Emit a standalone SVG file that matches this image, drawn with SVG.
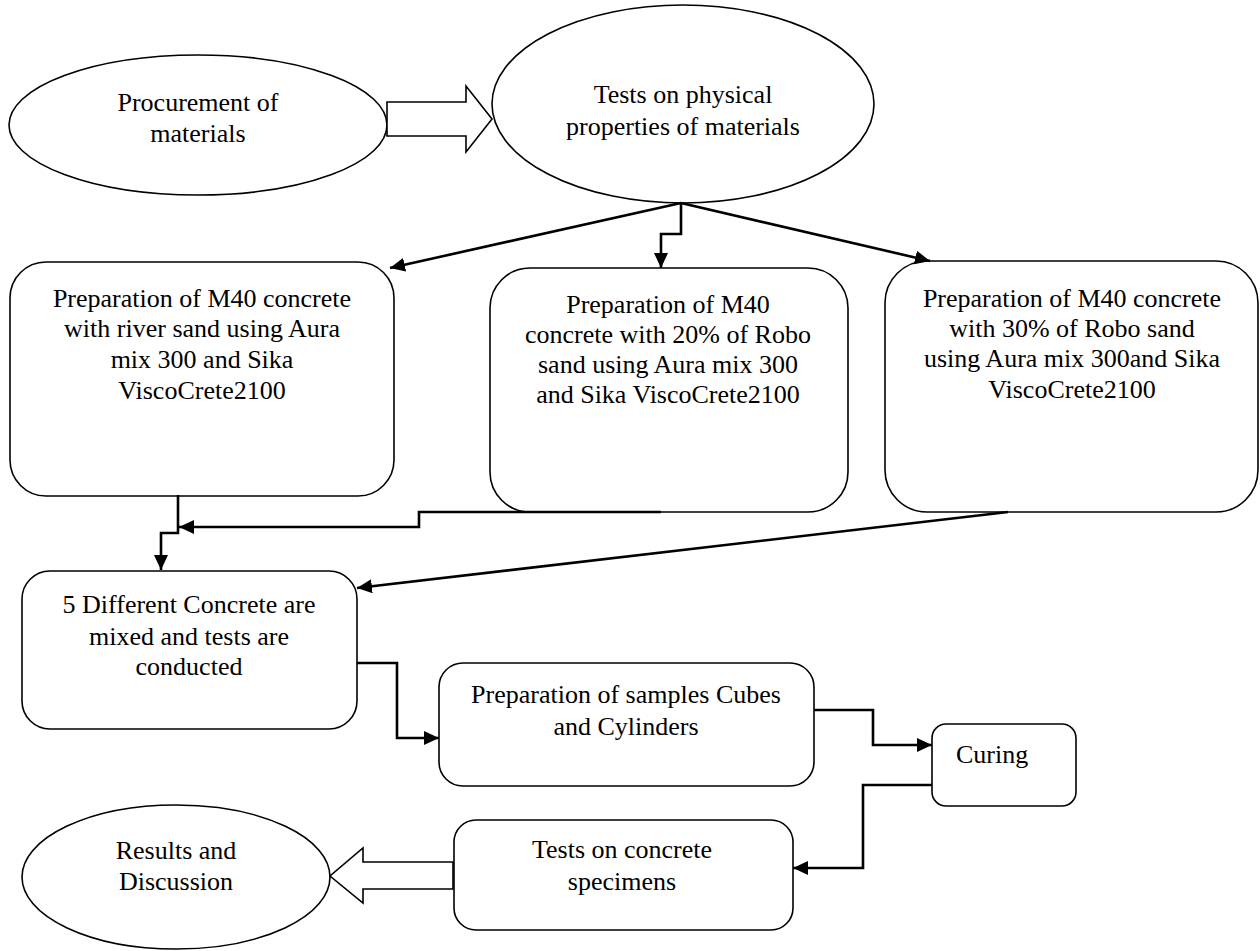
<svg xmlns="http://www.w3.org/2000/svg" width="1260" height="951" viewBox="0 0 1260 951">
<style>
.shape{fill:#fff;stroke:#000;stroke-width:1.6}
.conn{fill:none;stroke:#000;stroke-width:2.6}
.hollow{fill:#fff;stroke:#000;stroke-width:1.6;stroke-linejoin:miter}
text{font-family:"Liberation Serif","Times New Roman",serif;font-size:26px;fill:#000;text-anchor:middle}
</style>
<defs>
<marker id="ah" viewBox="0 0 15 14" refX="15" refY="7" markerWidth="15" markerHeight="14" orient="auto" markerUnits="userSpaceOnUse">
<path d="M0,0 L15,7 L0,14 z" fill="#000"/>
</marker>
</defs>
<rect width="1260" height="951" fill="#fff"/>

<g id="n_procurement">
<ellipse class="shape" cx="198" cy="125" rx="189" ry="70"/>
<text x="198" y="111">Procurement of</text>
<text x="198" y="142">materials</text>
</g>

<g id="n_tests_physical">
<ellipse class="shape" cx="683" cy="104" rx="191" ry="99"/>
<text x="683" y="103">Tests on physical</text>
<text x="683" y="135">properties of materials</text>
</g>

<g id="n_box1">
<rect class="shape" x="10" y="262" width="384" height="234" rx="36" ry="36"/>
<text x="202" y="307">Preparation of M40 concrete</text>
<text x="202" y="337">with river sand using Aura</text>
<text x="202" y="368">mix 300 and Sika</text>
<text x="202" y="399">ViscoCrete2100</text>
</g>

<g id="n_box2">
<rect class="shape" x="490" y="268" width="358" height="244" rx="40" ry="40"/>
<text x="668" y="313">Preparation of M40</text>
<text x="668" y="343">concrete with 20% of Robo</text>
<text x="668" y="373">sand using Aura mix 300</text>
<text x="668" y="403">and Sika ViscoCrete2100</text>
</g>

<g id="n_box3">
<rect class="shape" x="885" y="261" width="373" height="251" rx="42" ry="42"/>
<text x="1072" y="307">Preparation of M40 concrete</text>
<text x="1072" y="337">with 30% of Robo sand</text>
<text x="1072" y="367">using Aura mix 300and Sika</text>
<text x="1072" y="398">ViscoCrete2100</text>
</g>

<g id="n_box4">
<rect class="shape" x="22" y="571" width="335" height="158" rx="28" ry="28"/>
<text x="189" y="613">5 Different Concrete are</text>
<text x="189" y="645">mixed and tests are</text>
<text x="189" y="675">conducted</text>
</g>

<g id="n_samples">
<rect class="shape" x="439" y="663" width="375" height="123" rx="24" ry="24"/>
<text x="626" y="703">Preparation of samples Cubes</text>
<text x="626" y="735">and Cylinders</text>
</g>

<g id="n_curing">
<rect class="shape" x="932" y="724" width="144" height="82" rx="14" ry="14"/>
<text x="956" y="763" style="text-anchor:start">Curing</text>
</g>

<g id="n_tests_concrete">
<rect class="shape" x="454" y="820" width="339" height="110" rx="22" ry="22"/>
<text x="622" y="858">Tests on concrete</text>
<text x="622" y="890">specimens</text>
</g>

<g id="n_results">
<ellipse class="shape" cx="176" cy="877" rx="154" ry="72"/>
<text x="176" y="859">Results and</text>
<text x="176" y="890">Discussion</text>
</g>

<g id="connectors">
<path class="hollow" d="M387,102 L466,102 L466,86 L492,119 L466,152 L466,136 L387,136 Z"/>
<path class="hollow" d="M453,862 L363,862 L363,848 L330,876 L363,903 L363,889 L453,889 Z"/>
<path class="conn" d="M681,203 L390,268" marker-end="url(#ah)"/>
<path class="conn" d="M681,203 L681,234 L661,234 L661,268" marker-end="url(#ah)"/>
<path class="conn" d="M681,203 L930,261" marker-end="url(#ah)"/>
<path class="conn" d="M178,495 L178,533 L161,533 L161,570" marker-end="url(#ah)"/>
<path class="conn" d="M661,512 L419,512 L419,527 L179,527" marker-end="url(#ah)"/>
<path class="conn" d="M1008,512 L357,588" marker-end="url(#ah)"/>
<path class="conn" d="M357,663 L397,663 L397,738 L439,738" marker-end="url(#ah)"/>
<path class="conn" d="M814,710 L873,710 L873,745 L932,745" marker-end="url(#ah)"/>
<path class="conn" d="M932,785 L863,785 L863,868 L793,868" marker-end="url(#ah)"/>
</g>
</svg>
